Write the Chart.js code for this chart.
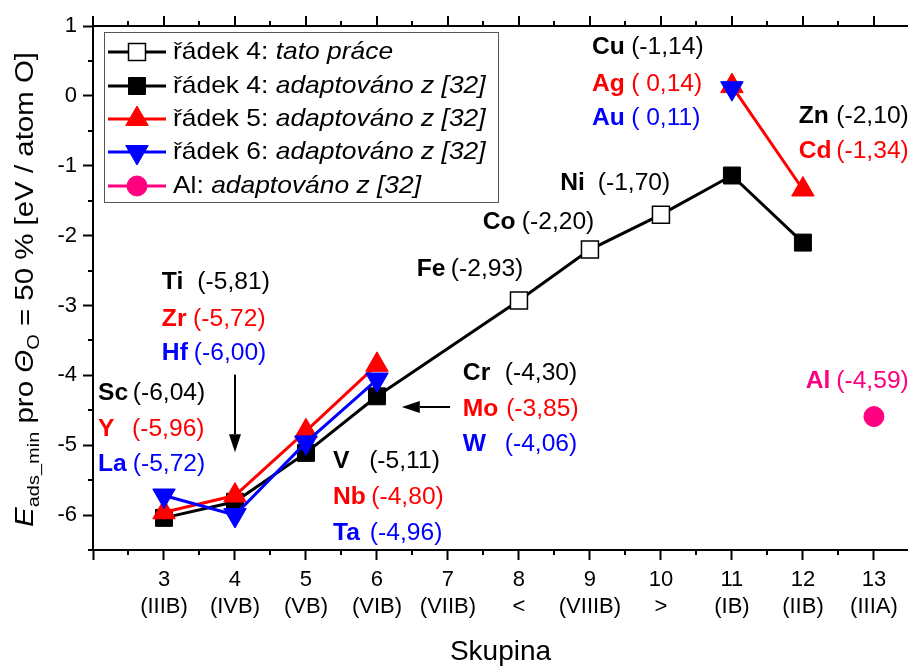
<!DOCTYPE html>
<html>
<head>
<meta charset="utf-8">
<script src="https://cdn.jsdelivr.net/npm/chart.js@4.4.0/dist/chart.umd.min.js"></script>
<style>
  html, body { margin: 0; padding: 0; background: #fff; overflow: hidden; }
  #wrap { width: 908px; height: 667px; }
</style>
</head>
<body>
<div id="wrap"><canvas id="chart" width="908" height="667"></canvas></div>
<script>
// Skupiny (x osa)
const groups = [3, 4, 5, 6, 7, 8, 9, 10, 11, 12, 13];
const groupNames = ['(IIIB)', '(IVB)', '(VB)', '(VIB)', '(VIIB)', '<', '(VIIIB)', '>', '(IB)', '(IIB)', '(IIIA)'];
const xTicks = [2, 3, 4, 5, 6, 7, 8, 9, 10, 11, 12, 13];
const yTicks = [-6, -5, -4, -3, -2, -1, 0, 1];

// řádek 4: tato práce (Fe, Co, Ni)
const row4WorkX = [8, 9, 10];
const row4WorkY = [-2.93, -2.20, -1.70];
// řádek 4: adaptováno (Sc, Ti, V, Cr, Cu, Zn)
const row4X = [3, 4, 5, 6, 11, 12];
const row4Y = [-6.04, -5.81, -5.11, -4.30, -1.14, -2.10];
// řádek 5 (Y, Zr, Nb, Mo, Ag, Cd)
const row5X = [3, 4, 5, 6, 11, 12];
const row5Y = [-5.96, -5.72, -4.80, -3.85, 0.14, -1.34];
// řádek 6 (La, Hf, Ta, W, Au)
const row6X = [3, 4, 5, 6, 11];
const row6Y = [-5.72, -6.00, -4.96, -4.06, 0.11];
// Al
const alX = [13];
const alY = [-4.59];

// popisky u bodů: prvek, hodnota, barva, poloha (v jednotkách os)
const notes = [
  { el: 'Cu', val: '(-1,14)', color: '#000000', x: 9.03, vx: 9.58, y: 0.685 },
  { el: 'Ag', val: '( 0,14)', color: '#ff0000', x: 9.03, vx: 9.58, y: 0.156 },
  { el: 'Au', val: '( 0,11)', color: '#0000ff', x: 9.03, vx: 9.58, y: -0.331 },
  { el: 'Zn', val: '(-2,10)', color: '#000000', x: 11.94, vx: 12.47, y: -0.302 },
  { el: 'Cd', val: '(-1,34)', color: '#ff0000', x: 11.94, vx: 12.47, y: -0.803 },
  { el: 'Ni', val: '(-1,70)', color: '#000000', x: 8.58, vx: 9.11, y: -1.261 },
  { el: 'Co', val: '(-2,20)', color: '#000000', x: 7.49, vx: 8.04, y: -1.820 },
  { el: 'Fe', val: '(-2,93)', color: '#000000', x: 6.56, vx: 7.04, y: -2.492 },
  { el: 'Ti', val: '(-5,81)', color: '#000000', x: 2.97, vx: 3.47, y: -2.678 },
  { el: 'Zr', val: '(-5,72)', color: '#ff0000', x: 2.97, vx: 3.41, y: -3.208 },
  { el: 'Hf', val: '(-6,00)', color: '#0000ff', x: 2.97, vx: 3.42, y: -3.695 },
  { el: 'Sc', val: '(-6,04)', color: '#000000', x: 2.07, vx: 2.56, y: -4.267 },
  { el: 'Y', val: '(-5,96)', color: '#ff0000', x: 2.07, vx: 2.55, y: -4.782 },
  { el: 'La', val: '(-5,72)', color: '#0000ff', x: 2.07, vx: 2.56, y: -5.283 },
  { el: 'Cr', val: '(-4,30)', color: '#000000', x: 7.21, vx: 7.80, y: -3.981 },
  { el: 'Mo', val: '(-3,85)', color: '#ff0000', x: 7.21, vx: 7.82, y: -4.496 },
  { el: 'W', val: '(-4,06)', color: '#0000ff', x: 7.21, vx: 7.80, y: -4.997 },
  { el: 'V', val: '(-5,11)', color: '#000000', x: 5.38, vx: 5.89, y: -5.240 },
  { el: 'Nb', val: '(-4,80)', color: '#ff0000', x: 5.38, vx: 5.92, y: -5.755 },
  { el: 'Ta', val: '(-4,96)', color: '#0000ff', x: 5.38, vx: 5.90, y: -6.271 },
  { el: 'Al', val: '(-4,59)', color: '#ff0080', x: 12.04, vx: 12.47, y: -4.095 }
];

const arrows = [
  { x1: 4, y1: -3.99, x2: 4, y2: -5.10 },
  { x1: 7.03, y1: -4.453, x2: 6.35, y2: -4.453 }
];

const FONT = "'Liberation Sans', Arial, Helvetica, sans-serif";

// body s mezerou (null) tam, kde chybí skupina
function toPoints(xs, ys) {
  const pts = [];
  for (let i = 0; i < xs.length; i++) {
    if (i > 0 && xs[i] - xs[i - 1] > 2) pts.push({ x: (xs[i] + xs[i - 1]) / 2, y: null });
    pts.push({ x: xs[i], y: ys[i] });
  }
  return pts;
}

// čára pro "tato práce" vede od Cr přes Fe, Co, Ni až k Cu
const workPoints = [{ x: row4X[3], y: row4Y[3], end: true }]
  .concat(row4WorkX.map((x, i) => ({ x: x, y: row4WorkY[i] })))
  .concat([{ x: row4X[4], y: row4Y[4], end: true }]);

function drawScaled(ctx, text, x, y, font, color, sx) {
  ctx.save();
  ctx.font = font;
  ctx.fillStyle = color;
  ctx.textBaseline = 'middle';
  ctx.textAlign = 'left';
  ctx.translate(x, y);
  ctx.scale(sx, 1);
  ctx.fillText(text, 0, 0);
  ctx.restore();
}

const decor = {
  id: 'decor',
  afterDraw(chart) {
    const ctx = chart.ctx;
    const xs = chart.scales.x, ys = chart.scales.y;
    const a = chart.chartArea;

    ctx.save();
    ctx.strokeStyle = '#000';
    ctx.lineWidth = 2;
    // horní osa
    ctx.beginPath();
    ctx.moveTo(a.left - 1, a.top);
    ctx.lineTo(a.right, a.top);
    ctx.stroke();
    ctx.beginPath();
    for (let v = 2; v <= 13.5; v += 0.5) {
      const px = Math.round(xs.getPixelForValue(v));
      if (px > a.right) continue;
      const len = Number.isInteger(v) ? 10 : 5;
      ctx.moveTo(px, a.top);
      ctx.lineTo(px, a.top - len);
      if (!Number.isInteger(v)) {
        ctx.moveTo(px, a.bottom);
        ctx.lineTo(px, a.bottom + 5);
      }
    }
    for (let v = -6.5; v <= 1; v += 1) {
      const py = Math.round(ys.getPixelForValue(v));
      ctx.moveTo(a.left, py);
      ctx.lineTo(a.left - 5, py);
    }
    ctx.stroke();

    // šipky
    ctx.fillStyle = '#000';
    arrows.forEach(ar => {
      const x1 = xs.getPixelForValue(ar.x1), y1 = ys.getPixelForValue(ar.y1);
      const x2 = xs.getPixelForValue(ar.x2), y2 = ys.getPixelForValue(ar.y2);
      const ang = Math.atan2(y2 - y1, x2 - x1);
      const hl = 18, hw = 6;
      const bx = x2 - Math.cos(ang) * hl, by = y2 - Math.sin(ang) * hl;
      ctx.beginPath();
      ctx.moveTo(x1, y1);
      ctx.lineTo(bx, by);
      ctx.stroke();
      ctx.beginPath();
      ctx.moveTo(x2, y2);
      ctx.lineTo(bx - Math.sin(ang) * hw, by + Math.cos(ang) * hw);
      ctx.lineTo(bx + Math.sin(ang) * hw, by - Math.cos(ang) * hw);
      ctx.closePath();
      ctx.fill();
    });
    ctx.restore();

    // popisky
    notes.forEach(n => {
      const py = ys.getPixelForValue(n.y);
      drawScaled(ctx, n.el, xs.getPixelForValue(n.x), py, 'bold 23px ' + FONT, n.color, 1.07);
      drawScaled(ctx, n.val, xs.getPixelForValue(n.vx), py, '23px ' + FONT, n.color, 1.07);
    });

    // legenda
    ctx.save();
    ctx.fillStyle = '#fff';
    ctx.fillRect(104.5, 32.5, 394, 170);
    ctx.strokeStyle = '#555';
    ctx.lineWidth = 1;
    ctx.strokeRect(104.5, 32.5, 394, 170);
    ctx.restore();
    const rowsY = [52, 86, 119, 152, 186];
    chart.data.datasets.forEach((ds, i) => {
      const y = rowsY[i];
      ctx.save();
      ctx.strokeStyle = ds.borderColor;
      ctx.lineWidth = 3;
      ctx.beginPath();
      ctx.moveTo(108, y);
      ctx.lineTo(166, y);
      ctx.stroke();
      ctx.fillStyle = ds.pointBackgroundColor;
      ctx.strokeStyle = ds.pointBorderColor;
      ctx.lineWidth = ds.pointBorderWidth;
      Chart.helpers.drawPoint(ctx, {
        pointStyle: ds.pointStyle,
        rotation: ds.pointRotation || 0,
        radius: ds.legendRadius,
        borderWidth: ds.pointBorderWidth
      }, 137, y);
      ctx.restore();
      const parts = ds.label.split(': ');
      ctx.save();
      ctx.font = '24px ' + FONT;
      const w = ctx.measureText(parts[0] + ': ').width * 1.1;
      ctx.restore();
      drawScaled(ctx, parts[0] + ': ', 173, y, '24px ' + FONT, '#000', 1.1);
      drawScaled(ctx, parts[1], 173 + w, y, 'italic 24px ' + FONT, '#000', 1.1);
    });

    // název osy x
    ctx.save();
    ctx.font = '28px ' + FONT;
    ctx.fillStyle = '#000';
    ctx.textAlign = 'center';
    ctx.textBaseline = 'middle';
    ctx.fillText('Skupina', (a.left + 908) / 2, 652);
    ctx.restore();

    // název osy y
    const runs = [
      { t: 'E', f: 'italic 25px ' + FONT, dy: 0 },
      { t: 'ads_min', f: '17px ' + FONT, dy: 6 },
      { t: ' pro ', f: '25px ' + FONT, dy: 0 },
      { t: 'Θ', f: 'italic 25px ' + FONT, dy: 0 },
      { t: 'O', f: '17px ' + FONT, dy: 6 },
      { t: ' = 50 % [eV / atom O]', f: '25px ' + FONT, dy: 0 }
    ];
    ctx.save();
    let total = 0;
    runs.forEach(r => { ctx.font = r.f; r.w = ctx.measureText(r.t).width; total += r.w; });
    const sx = 475 / total;
    ctx.translate(33, 527);
    ctx.rotate(-Math.PI / 2);
    ctx.scale(sx, 1);
    ctx.fillStyle = '#000';
    ctx.textBaseline = 'alphabetic';
    let cx = 0;
    runs.forEach(r => {
      ctx.font = r.f;
      ctx.fillText(r.t, cx, r.dy);
      cx += r.w;
    });
    ctx.restore();
  }
};

const ctx = document.getElementById('chart').getContext('2d');
const chart = new Chart(ctx, {
  type: 'line',
  data: {
    datasets: [
      {
        label: 'řádek 4: tato práce',
        data: workPoints,
        borderColor: '#000000',
        borderWidth: 3,
        pointStyle: 'rect',
        pointRadius: c => (c.raw && c.raw.end) ? 0 : 12,
        legendRadius: 12,
        pointBackgroundColor: '#ffffff',
        pointBorderColor: '#000000',
        pointBorderWidth: 1.5,
        order: 5
      },
      {
        label: 'řádek 4: adaptováno z [32]',
        data: toPoints(row4X, row4Y),
        borderColor: '#000000',
        borderWidth: 3,
        pointStyle: 'rect',
        pointRadius: 12,
        legendRadius: 12,
        pointBackgroundColor: '#000000',
        pointBorderColor: '#000000',
        pointBorderWidth: 1,
        order: 4
      },
      {
        label: 'řádek 5: adaptováno z [32]',
        data: toPoints(row5X, row5Y),
        borderColor: '#ff0000',
        borderWidth: 3,
        pointStyle: 'triangle',
        pointRadius: 13,
        legendRadius: 13,
        pointBackgroundColor: '#ff0000',
        pointBorderColor: '#ff0000',
        pointBorderWidth: 1,
        order: 3
      },
      {
        label: 'řádek 6: adaptováno z [32]',
        data: toPoints(row6X, row6Y),
        borderColor: '#0000ff',
        borderWidth: 3,
        pointStyle: 'triangle',
        pointRotation: 180,
        pointRadius: 13,
        legendRadius: 13,
        pointBackgroundColor: '#0000ff',
        pointBorderColor: '#0000ff',
        pointBorderWidth: 1,
        order: 2
      },
      {
        label: 'Al: adaptováno z [32]',
        data: toPoints(alX, alY),
        borderColor: '#ff0080',
        borderWidth: 3,
        showLine: false,
        pointStyle: 'circle',
        pointRadius: 10,
        legendRadius: 10,
        pointBackgroundColor: '#ff0080',
        pointBorderColor: '#ff0080',
        pointBorderWidth: 1,
        order: 1
      }
    ]
  },
  options: {
    responsive: false,
    animation: false,
    devicePixelRatio: 1,
    spanGaps: false,
    layout: { autoPadding: false, padding: { top: 26, right: 0, left: 0, bottom: 0 } },
    plugins: {
      legend: { display: false },
      tooltip: { enabled: false }
    },
    scales: {
      x: {
        type: 'linear',
        position: 'bottom',
        min: 2,
        max: 13.48,
        afterFit: s => { s.height = 117; s.paddingLeft = 0; s.paddingRight = 0; },
        afterBuildTicks: s => { s.ticks = xTicks.map(v => ({ value: v })); },
        grid: { drawOnChartArea: false, tickLength: 10, tickWidth: 2, tickColor: '#000' },
        border: { display: true, color: '#000', width: 2 },
        ticks: {
          autoSkip: false,
          maxRotation: 0,
          padding: 6,
          color: '#000',
          font: { family: FONT, size: 22, lineHeight: 1.23 },
          callback: v => {
            const i = groups.indexOf(v);
            return i < 0 ? '' : [String(v), groupNames[i]];
          }
        }
      },
      y: {
        type: 'linear',
        min: -6.5,
        max: 1,
        afterFit: s => { s.width = 93; s.paddingTop = 0; s.paddingBottom = 0; },
        afterBuildTicks: s => { s.ticks = yTicks.map(v => ({ value: v })); },
        grid: { drawOnChartArea: false, tickLength: 10, tickWidth: 2, tickColor: '#000' },
        border: { display: true, color: '#000', width: 2 },
        ticks: {
          padding: 6,
          color: '#000',
          font: { family: FONT, size: 22 },
          callback: v => String(v)
        }
      }
    }
  },
  plugins: [decor]
});
</script>
</body>
</html>
